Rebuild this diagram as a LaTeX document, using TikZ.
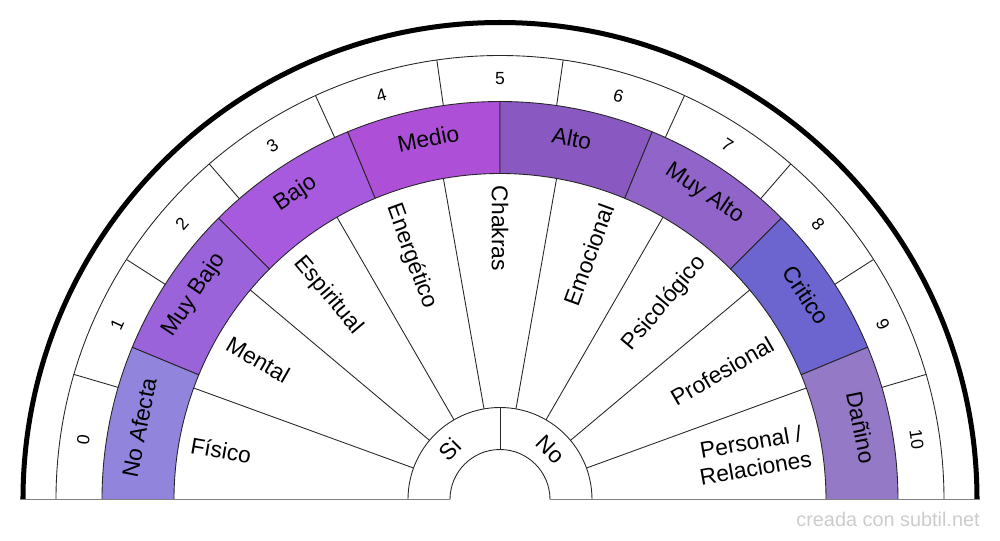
\documentclass[tikz,border=0pt]{standalone}
\usepackage[x11names, svgnames, rgb]{xcolor}
\usepackage{fontspec}
\setmainfont{Liberation Sans}
\usepackage{tikz}
\usetikzlibrary{calc, backgrounds}

\definecolor{noafecta}{HTML}{9184DC}
\definecolor{muybajo}{HTML}{9A63DA}
\definecolor{bajo}{HTML}{A75ADE}
\definecolor{medio}{HTML}{AD50D7}
\definecolor{alto}{HTML}{8A58C1}
\definecolor{muyalto}{HTML}{9064C9}
\definecolor{critico}{HTML}{6C64CF}
\definecolor{danino}{HTML}{9479C6}

\begin{document}
\begin{tikzpicture}[line join=bevel,scale=.2,
        ring/.style={draw=black!85, line width=.5pt},
        lvl/.style={font=\fontsize{13}{15}\selectfont, inner sep=0pt},
        num/.style={font=\fontsize{10}{12}\selectfont, inner sep=0pt},
        cat/.style={font=\fontsize{13}{15}\selectfont, inner sep=0pt, align=center}]
        \useasboundingbox (-50,-4.05) rectangle (50,49.95);
        % levels
        \foreach \col/\txt [count=\i from 0] in {noafecta/No Afecta, muybajo/Muy Bajo, bajo/Bajo,
                medio/Medio, alto/Alto, muyalto/Muy Alto, critico/Critico, danino/Dañino} {
          \pgfmathsetmacro\angS{180-22.5*\i}
          \pgfmathsetmacro\angE{\angS-22.5}
          \pgfmathsetmacro\angM{\angS-11.25}
          \pgfmathsetmacro\rot{\angM-90}
          \filldraw[fill=\col, ring] (\angS:32.6) arc[start angle=\angS, end angle=\angE, radius=32.6]
                -- (\angE:39.8) arc[start angle=\angE, end angle=\angS, radius=39.8] -- cycle;
          \node[lvl, rotate=\rot] (lvl\i) at (\angM:36.8) {\txt};
        }
        % numbers
        \foreach \i in {0,...,10} {
          \pgfmathsetmacro\angM{180-(\i+0.5)*180/11}
          \pgfmathsetmacro\rot{\angM-90}
          \node[num, rotate=\rot] (num\i) at (\angM:42.1) {\i};
        }
        \foreach \k in {1,...,10}
          \draw[ring] ({180-\k*180/11}:39.8) -- ({180-\k*180/11}:44.4);
        \draw[ring] (180:44.4) arc[start angle=180, end angle=0, radius=44.4];
        % areas
        \foreach \txt [count=\i from 0] in {Físico, Mental, Espiritual, Energético, Chakras} {
          \pgfmathsetmacro\angM{170-20*\i}
          \pgfmathsetmacro\rot{\angM-180}
          \node[cat, rotate=\rot, anchor=west] (cat\i) at (\angM:31.4) {\txt};
        }
        \foreach \txt [count=\i from 5] in {Emocional, Psicológico, Profesional, {Personal /\\Relaciones}} {
          \pgfmathsetmacro\angM{170-20*\i}
          \node[cat, rotate=\angM, anchor=east] (cat\i) at (\angM:31.4) {\txt};
        }
        \foreach \k in {1,...,8}
          \draw[ring] ({180-20*\k}:9.2) -- ({180-20*\k}:32.6);
        % si / no
        \draw[ring] (180:9.2) arc[start angle=180, end angle=0, radius=9.2];
        \draw[ring] (180:5) arc[start angle=180, end angle=0, radius=5];
        \draw[ring] (90:5) -- (90:9.2);
        \node[cat, rotate=45] (si) at (135:7.1) {Si};
        \node[cat, rotate=-45] (no) at (45:7.1) {No};
        % frame
        \draw[line width=2.85pt] (180:47.7) arc[start angle=180, end angle=0, radius=47.7];
        \draw[gray, line width=.9pt] (-48,0) -- (-5,0) (5,0) -- (48,0);
        \node[anchor=east, inner sep=0pt, text=black!20, font=\fontsize{11.3}{13}\selectfont]
                (credit) at (48,-1.95) {creada con subtil.net};
      \end{tikzpicture}
\end{document}
